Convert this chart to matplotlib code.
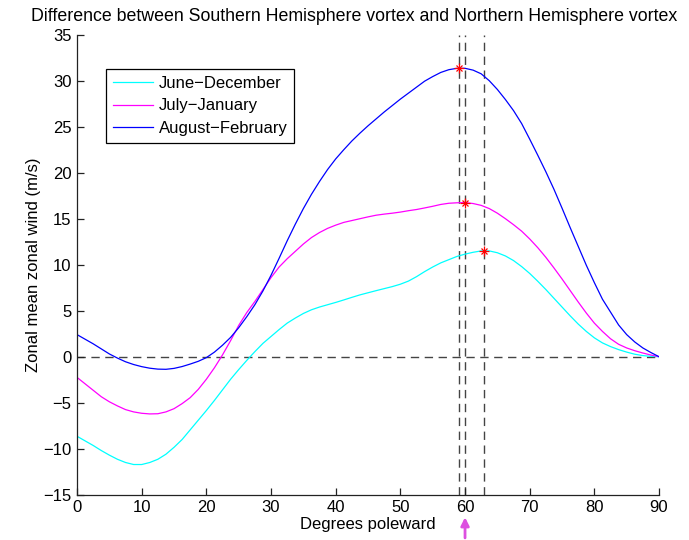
import matplotlib
matplotlib.use("Agg")
import matplotlib.pyplot as plt
import numpy as np

plt.rcParams['font.family'] = ['Liberation Sans', 'DejaVu Sans']
plt.rcParams['font.size'] = 12

# latitude grid (degrees poleward), every 1.25 degrees from 0 to 90
lat = np.linspace(0, 90, 73)

jun_dec = [-8.65, -9.15, -9.65, -10.2, -10.7, -11.15, -11.5, -11.72, -11.72, -11.5,
           -11.15, -10.6, -9.85, -9.0, -7.95, -6.9, -5.85, -4.75, -3.6, -2.45,
           -1.4, -0.4, 0.55, 1.45, 2.2, 2.95, 3.65, 4.2, 4.7, 5.1,
           5.4, 5.65, 5.9, 6.17, 6.45, 6.72, 6.95, 7.18, 7.4, 7.62,
           7.88, 8.22, 8.7, 9.25, 9.75, 10.2, 10.55, 10.9, 11.15, 11.35,
           11.5, 11.5, 11.3, 10.95, 10.45, 9.8, 9.05, 8.2, 7.3, 6.35,
           5.4, 4.45, 3.55, 2.75, 2.05, 1.5, 1.1, 0.77, 0.5, 0.27,
           0.12, 0.04, 0.0]

jul_jan = [-2.25, -2.95, -3.65, -4.35, -4.9, -5.35, -5.75, -6.0, -6.15, -6.22,
           -6.2, -6.0, -5.65, -5.1, -4.45, -3.55, -2.45, -1.2, 0.2, 1.75,
           3.4, 4.8, 6.0, 7.3, 8.6, 9.75, 10.65, 11.45, 12.25, 12.95,
           13.5, 13.95, 14.3, 14.6, 14.8, 15.0, 15.2, 15.38, 15.5, 15.6,
           15.72, 15.87, 16.0, 16.17, 16.35, 16.55, 16.68, 16.73, 16.75, 16.65,
           16.45, 16.1, 15.6, 15.0, 14.35, 13.65, 12.8, 11.85, 10.8, 9.65,
           8.45, 7.2, 5.95, 4.75, 3.65, 2.75, 1.95, 1.35, 0.95, 0.65,
           0.4, 0.18, 0.0]

aug_feb = [2.4, 1.9, 1.4, 0.85, 0.3, -0.15, -0.55, -0.85, -1.08, -1.25,
           -1.35, -1.37, -1.27, -1.07, -0.8, -0.5, -0.1, 0.5, 1.25, 2.1,
           3.15, 4.35, 5.65, 7.15, 8.85, 10.7, 12.6, 14.4, 16.1, 17.65,
           19.05, 20.35, 21.5, 22.5, 23.45, 24.3, 25.1, 25.85, 26.6, 27.3,
           28.0, 28.65, 29.3, 29.95, 30.45, 30.9, 31.2, 31.35, 31.35, 31.15,
           30.75, 30.0, 29.05, 27.95, 26.75, 25.35, 23.65, 21.9, 20.1, 18.2,
           16.15, 14.05, 12.0, 9.95, 8.05, 6.25, 4.85, 3.45, 2.4, 1.6,
           0.95, 0.45, 0.0]

labels = ['June\u2212December', 'July\u2212January', 'August\u2212February']
colors = ['#00ffff', '#ff00ff', '#0000ff']

peak_lat = [63, 60, 59]
peak_val = [11.5, 16.75, 31.35]

xticks = [0, 10, 20, 30, 40, 50, 60, 70, 80, 90]
yticks = [-15, -10, -5, 0, 5, 10, 15, 20, 25, 30, 35]

fig = plt.figure(figsize=(6.89, 5.40), dpi=100)
ax = fig.add_axes([0.1118, 0.0839, 0.8447, 0.8518])

for ys, lab, c in zip([jun_dec, jul_jan, aug_feb], labels, colors):
    ax.plot(lat, ys, color=c, lw=0.9, label=lab, solid_joinstyle='round')

ax.axhline(0, color='#444444', lw=1.0, ls=(0, (6, 4)), zorder=1)
for xv in peak_lat:
    ax.axvline(xv, color='#444444', lw=1.0, ls=(0, (6, 4)), zorder=1)

# MATLAB-style asterisk markers: '+' overlaid with 'x'
ax.plot(peak_lat, peak_val, ls='none', marker='+', color='red', ms=6.5,
        markeredgewidth=0.9, zorder=5)
ax.plot(peak_lat, peak_val, ls='none', marker='x', color='red', ms=5,
        markeredgewidth=0.9, zorder=5)

ax.set_xlim(0, 90)
ax.set_ylim(-15, 35)
ax.set_xticks(xticks)
ax.set_yticks(yticks)
ax.set_yticklabels([str(v).replace('-', '\u2212') for v in yticks])
ax.spines['top'].set_visible(False)
ax.spines['right'].set_visible(False)
for s in ['left', 'bottom']:
    ax.spines[s].set_color('#222222')
    ax.spines[s].set_linewidth(0.9)
ax.tick_params(direction='in', length=5, width=0.9, colors='#222222',
               labelcolor='black', labelsize=12, pad=4)

fig.text(354 / 689, 1 - 21 / 540,
         'Difference between Southern Hemisphere vortex and Northern Hemisphere vortex',
         fontsize=12.8, ha='center', va='baseline')
ax.set_xlabel('Degrees poleward', fontsize=12, labelpad=1)
ax.set_ylabel('Zonal mean zonal wind (m/s)', fontsize=12, labelpad=1.5)

leg = ax.legend(loc='upper left', bbox_to_anchor=(0.05, 0.925), borderaxespad=0,
                fancybox=False, framealpha=1, edgecolor='black', fontsize=12,
                handlelength=2.4, labelspacing=0.45, borderpad=0.4,
                handletextpad=0.35)
leg.get_frame().set_linewidth(0.9)

ax.annotate('', xy=(60, -0.043), xytext=(60, -0.10),
            xycoords=('data', 'axes fraction'), textcoords=('data', 'axes fraction'),
            arrowprops=dict(arrowstyle='-|>', color='#dd50e0', lw=2,
                            mutation_scale=12),
            annotation_clip=False)

fig.savefig('out.png', dpi=100)
